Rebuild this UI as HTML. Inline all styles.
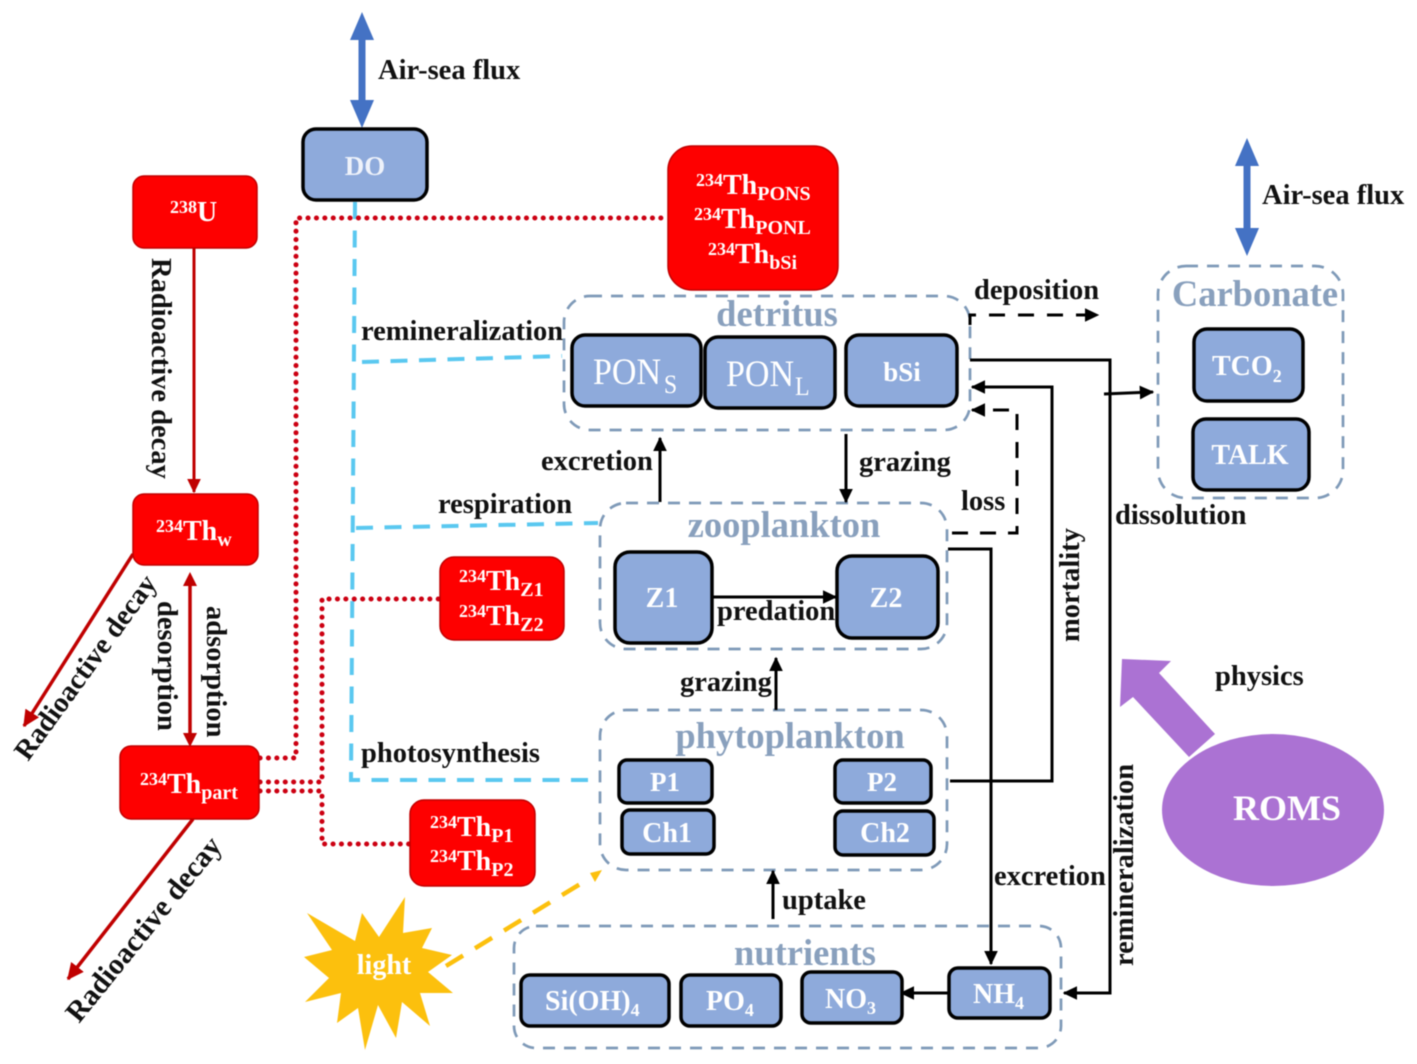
<!DOCTYPE html>
<html><head><meta charset="utf-8"><style>
html,body{margin:0;padding:0;background:#fff}
svg{display:block;filter:blur(.4px)}
text{font-family:"Liberation Serif",serif}
.l{font-weight:bold;font-size:28.5px;fill:#111}
.w{font-weight:bold;fill:#fff}
.h{font-weight:bold;fill:#89a0bd}
.n{fill:#8eaadb;stroke:#000;stroke-width:3.5}
.r{fill:#fe0000;stroke:#c00000;stroke-width:1.5}
.g{fill:none;stroke:#7f9ab8;stroke-width:2.7;stroke-dasharray:12 9}
.k{fill:none;stroke:#000;stroke-width:3}
.c{fill:none;stroke:#5ac8f0;stroke-width:4;stroke-dasharray:17 11.5}
.d{fill:none;stroke:#cc0012;stroke-width:5;stroke-dasharray:.1 8.3;stroke-linecap:round}
</style></head><body>
<svg width="1417" height="1064" viewBox="0 0 1417 1064" xmlns="http://www.w3.org/2000/svg">
<defs>
<marker id="ak" markerWidth="4.8" markerHeight="4.6" refX="4.4" refY="2.3" orient="auto" markerUnits="strokeWidth"><path d="M0 0L4.8 2.3L0 4.6z" fill="#000"/></marker>
<marker id="ar" markerWidth="4.8" markerHeight="4.6" refX="4.4" refY="2.3" orient="auto" markerUnits="strokeWidth"><path d="M0 0L4.8 2.3L0 4.6z" fill="#c00000"/></marker>
</defs>

<!-- cyan dashed -->
<path class="c" d="M355 202L351 780H598"/>
<path class="c" d="M362 362L562 356"/>
<path class="c" d="M356 528L598 523"/>

<!-- red dotted -->
<path class="d" d="M260 758H296V218H668"/>
<path class="d" d="M260 782H322V599H440"/>
<path class="d" d="M260 791H322V844H410"/>

<!-- air-sea arrows -->
<path d="M362 12L374 40H365.500V100H374L362 128L350 100H358.500V40H350z" fill="#4472c4"/>
<path d="M1247 138L1259 166H1250.500V228H1259L1247 256L1235 228H1243.500V166H1235z" fill="#4472c4"/>

<!-- red solid arrows -->
<path d="M194 248V492" stroke="#c00000" stroke-width="3" fill="none" marker-end="url(#ar)"/>
<path d="M133 554L24 726" stroke="#c00000" stroke-width="3.500" fill="none" marker-end="url(#ar)"/>
<path d="M193 819L68 979" stroke="#c00000" stroke-width="3.500" fill="none" marker-end="url(#ar)"/>
<path d="M190 578V740" stroke="#c00000" stroke-width="3.500" fill="none"/>
<path d="M190 572l-7 14h14z M190 747l-7 -14h14z" fill="#c00000"/>

<!-- group outlines -->
<rect class="g" x="564" y="296" width="406" height="134" rx="26"/>
<rect class="g" x="600" y="503" width="347" height="146" rx="26"/>
<rect class="g" x="600" y="710" width="347" height="160" rx="26"/>
<rect class="g" x="514" y="926" width="547" height="122" rx="22"/>
<rect class="g" x="1158" y="266" width="185" height="232" rx="28"/>

<!-- black connectors -->
<path class="k" d="M970 325V315H1098" stroke-dasharray="16 13" marker-end="url(#ak)"/>
<path class="k" d="M970 360H1110V993H1064" marker-end="url(#ak)"/>
<path class="k" d="M1104 394L1153 392" marker-end="url(#ak)"/>
<path class="k" d="M950 781H1052V387H972" marker-end="url(#ak)"/>
<path class="k" d="M952 533H1017V410H972" stroke-dasharray="16 12" marker-end="url(#ak)"/>
<path class="k" d="M948 549H991V964" marker-end="url(#ak)"/>
<path class="k" d="M660 502V438" marker-end="url(#ak)"/>
<path class="k" d="M846 434V502" marker-end="url(#ak)"/>
<path class="k" d="M712 597H836" marker-end="url(#ak)"/>
<path class="k" d="M776 710V658" marker-end="url(#ak)"/>
<path class="k" d="M773 919V871" marker-end="url(#ak)"/>
<path class="k" d="M948 993H901" marker-end="url(#ak)"/>

<!-- light dashed -->
<path d="M446 966L590 878" fill="none" stroke="#fcc00d" stroke-width="4.500" stroke-dasharray="20 14"/>
<path d="M602 870L590 873L595 882z" fill="#fcc00d"/>

<!-- ROMS -->
<ellipse cx="1273" cy="810" rx="111" ry="76" fill="#ab72d3"/>
<path d="M1122 659L1171 661L1159 673L1215 734L1189 757L1133 697L1120 707z" fill="#ab72d3"/>

<!-- star -->
<path d="M405 897L403 933L432 928L422 948L452 955L428 972L453 993L420 993L430 1026L402 1002L396 1038L378 1005L365 1050L358 1008L337 1023L341 993L305 1002L329 978L304 957L332 950L307 913L355 941L362 913L379 937z" fill="#fcc00d"/>

<!-- blue nodes -->
<rect class="n" x="303" y="129" width="124" height="71" rx="13"/>
<rect class="n" x="572" y="335" width="129" height="71" rx="13"/>
<rect class="n" x="705" y="337" width="130" height="71" rx="13"/>
<rect class="n" x="846" y="335" width="111" height="71" rx="13"/>
<rect class="n" x="1194" y="329" width="109" height="72" rx="13"/>
<rect class="n" x="1193" y="419" width="116" height="71" rx="13"/>
<rect class="n" x="615" y="552" width="97" height="91" rx="15"/>
<rect class="n" x="837" y="556" width="101" height="82" rx="15"/>
<rect class="n" x="619" y="760" width="93" height="43" rx="8"/>
<rect class="n" x="835" y="760" width="96" height="43" rx="8"/>
<rect class="n" x="622" y="810" width="92" height="44" rx="8"/>
<rect class="n" x="835" y="811" width="99" height="44" rx="8"/>
<rect class="n" x="521" y="975" width="148" height="51" rx="9"/>
<rect class="n" x="681" y="975" width="100" height="51" rx="9"/>
<rect class="n" x="802" y="972" width="100" height="51" rx="9"/>
<rect class="n" x="949" y="968" width="101" height="50" rx="9"/>

<!-- red nodes -->
<rect class="r" x="133" y="176" width="124" height="72" rx="11"/>
<rect class="r" x="133" y="494" width="125" height="71" rx="11"/>
<rect class="r" x="120" y="746" width="139" height="73" rx="11"/>
<rect class="r" x="668" y="146" width="170" height="144" rx="24"/>
<rect class="r" x="440" y="557" width="124" height="83" rx="14"/>
<rect class="r" x="410" y="800" width="125" height="86" rx="14"/>

<!-- red node text -->
<text class="w" x="170" y="221" font-size="28"><tspan font-size="18" dy="-8">238</tspan><tspan dy="8">U</tspan></text>
<text class="w" x="156" y="540" font-size="28"><tspan font-size="18" dy="-8">234</tspan><tspan dy="8">Th</tspan><tspan font-size="20" dy="6">w</tspan></text>
<text class="w" x="140" y="793" font-size="28"><tspan font-size="18" dy="-8">234</tspan><tspan dy="8">Th</tspan><tspan font-size="20" dy="6">part</tspan></text>
<text class="w" x="696" y="194" font-size="28"><tspan font-size="18" dy="-8">234</tspan><tspan dy="8">Th</tspan><tspan font-size="20" dy="6">PONS</tspan></text>
<text class="w" x="694" y="228" font-size="28"><tspan font-size="18" dy="-8">234</tspan><tspan dy="8">Th</tspan><tspan font-size="20" dy="6">PONL</tspan></text>
<text class="w" x="708" y="263" font-size="28"><tspan font-size="18" dy="-8">234</tspan><tspan dy="8">Th</tspan><tspan font-size="20" dy="6">bSi</tspan></text>
<text class="w" x="459" y="590" font-size="28"><tspan font-size="18" dy="-8">234</tspan><tspan dy="8">Th</tspan><tspan font-size="20" dy="6">Z1</tspan></text>
<text class="w" x="459" y="625" font-size="28"><tspan font-size="18" dy="-8">234</tspan><tspan dy="8">Th</tspan><tspan font-size="20" dy="6">Z2</tspan></text>
<text class="w" x="430" y="836" font-size="28"><tspan font-size="18" dy="-8">234</tspan><tspan dy="8">Th</tspan><tspan font-size="20" dy="6">P1</tspan></text>
<text class="w" x="430" y="870" font-size="28"><tspan font-size="18" dy="-8">234</tspan><tspan dy="8">Th</tspan><tspan font-size="20" dy="6">P2</tspan></text>

<!-- blue node text -->
<text class="w" x="365" y="175" font-size="27" text-anchor="middle" style="fill:#eef2fa">DO</text>
<text transform="translate(593,384) scale(.92,1)" font-size="37" fill="#fff">PON<tspan font-size="26" dx="3" dy="9">S</tspan></text>
<text transform="translate(726,386) scale(.92,1)" font-size="37" fill="#fff">PON<tspan font-size="26" dx="1" dy="9">L</tspan></text>
<text class="w" x="902" y="381" font-size="27" text-anchor="middle">bSi</text>
<text class="w" x="1212" y="375" font-size="28">TCO<tspan font-size="18" dy="7">2</tspan></text>
<text class="w" x="1250" y="464" font-size="28" text-anchor="middle">TALK</text>
<text class="w" x="662" y="607" font-size="28" text-anchor="middle">Z1</text>
<text class="w" x="886" y="607" font-size="28" text-anchor="middle">Z2</text>
<text class="w" x="665" y="791" font-size="27" text-anchor="middle">P1</text>
<text class="w" x="882" y="791" font-size="27" text-anchor="middle">P2</text>
<text class="w" x="667" y="842" font-size="28" text-anchor="middle">Ch1</text>
<text class="w" x="885" y="842" font-size="28" text-anchor="middle">Ch2</text>
<text class="w" x="545" y="1010" font-size="28">Si(OH)<tspan font-size="18" dy="6">4</tspan></text>
<text class="w" x="706" y="1010" font-size="28">PO<tspan font-size="18" dy="6">4</tspan></text>
<text class="w" x="825" y="1008" font-size="28">NO<tspan font-size="18" dy="6">3</tspan></text>
<text class="w" x="973" y="1003" font-size="28">NH<tspan font-size="18" dy="6">4</tspan></text>
<text class="w" x="384" y="974" font-size="28" text-anchor="middle">light</text>
<text class="w" x="1287" y="820" font-size="36" text-anchor="middle">ROMS</text>

<!-- group headers -->
<text class="h" x="777" y="326" font-size="36.500" text-anchor="middle">detritus</text>
<text class="h" x="784" y="537" font-size="36.500" text-anchor="middle">zooplankton</text>
<text class="h" x="790" y="748" font-size="36.500" text-anchor="middle">phytoplankton</text>
<text class="h" x="805" y="965" font-size="36.500" text-anchor="middle">nutrients</text>
<text class="h" x="1255" y="306" font-size="36.500" text-anchor="middle">Carbonate</text>

<!-- labels -->
<text class="l" x="378" y="79">Air-sea flux</text>
<text class="l" x="1262" y="204">Air-sea flux</text>
<text class="l" x="974" y="299">deposition</text>
<text class="l" x="361" y="340">remineralization</text>
<text class="l" x="541" y="470">excretion</text>
<text class="l" x="859" y="471">grazing</text>
<text class="l" x="438" y="513">respiration</text>
<text class="l" x="961" y="510">loss</text>
<text class="l" x="1115" y="524">dissolution</text>
<text class="l" x="717" y="620">predation</text>
<text class="l" x="680" y="691">grazing</text>
<text class="l" x="1215" y="685">physics</text>
<text class="l" x="361" y="762">photosynthesis</text>
<text class="l" x="994" y="885">excretion</text>
<text class="l" x="782" y="909">uptake</text>
<text class="l" transform="translate(152,258) rotate(90)">Radioactive decay</text>
<text class="l" transform="translate(158,601) rotate(90)">desorption</text>
<text class="l" transform="translate(207,606) rotate(90)">adsorption</text>
<text class="l" transform="translate(1079,642) rotate(-90)">mortality</text>
<text class="l" transform="translate(1133,966) rotate(-90)">remineralization</text>
<text class="l" transform="translate(28,762) rotate(-54)">Radioactive decay</text>
<text class="l" transform="translate(79,1024) rotate(-51)" style="font-size:29.5px">Radioactive decay</text>
</svg>
</body></html>
